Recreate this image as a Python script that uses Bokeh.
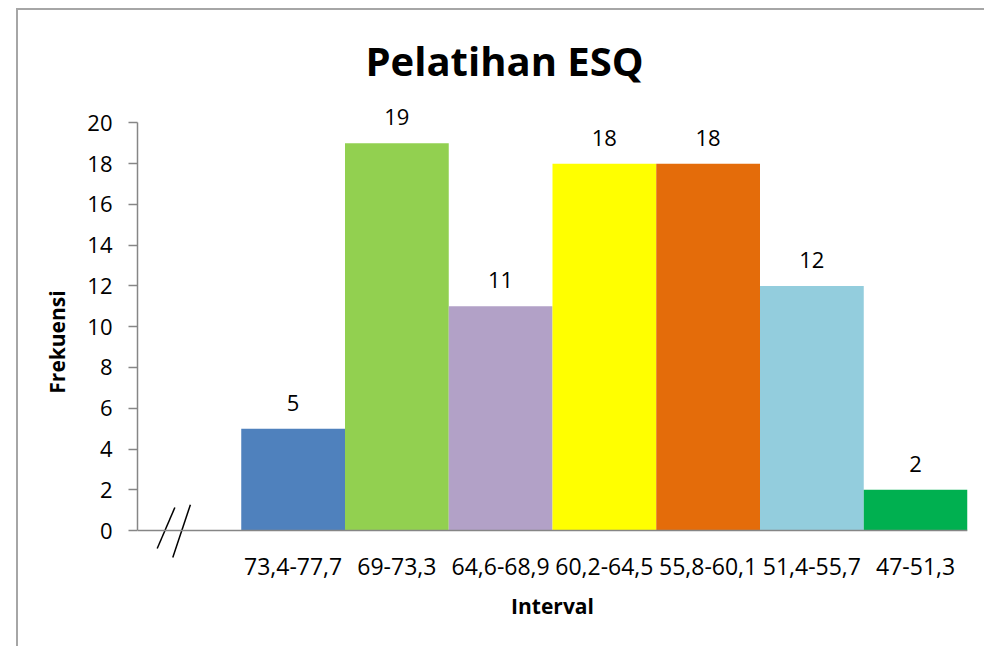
from bokeh.plotting import figure
from bokeh.models import (ColumnDataSource, FixedTicker, Range1d, Span, LabelSet)
from bokeh.core.properties import value
from bokeh.embed import file_html
from bokeh.resources import INLINE

intervals = ["73,4-77,7", "69-73,3", "64,6-68,9", "60,2-64,5", "55,8-60,1", "51,4-55,7", "47-51,3"]
frekuensi = [5, 19, 11, 18, 18, 12, 2]
colors = ["#4F81BD", "#92D050", "#B2A1C7", "#FFFF00", "#E46C0A", "#93CDDD", "#00B050"]
y_ticks = [0, 2, 4, 6, 8, 10, 12, 14, 16, 18, 20]

# slot 0 is the empty (broken-axis) slot, bars start at slot 1
xpos = [i + 1.5 for i in range(len(intervals))]

src = ColumnDataSource(dict(x=xpos, top=frekuensi, color=colors,
                            label=[str(v) for v in frekuensi],
                            zero=[0] * len(intervals), cat=intervals))

FONT = "Open Sans"

p = figure(width=968, height=638, output_backend="svg", toolbar_location=None,
           x_range=Range1d(0, len(intervals) + 1), y_range=Range1d(-2.5, 21),
           min_border_left=119, min_border_right=19, min_border_top=92,
           min_border_bottom=67)
p.styles = {"margin-left": "16px", "margin-top": "8px",
            "border-left": "2px solid #a6a6a6", "border-top": "2px solid #a6a6a6"}
p.outline_line_color = None
p.xgrid.visible = False
p.ygrid.visible = False
p.background_fill_color = "white"
p.border_fill_color = "white"

p.title.text = "Pelatihan ESQ"
p.title.text_font = FONT
p.title.text_font_size = "40px"
p.title.text_font_style = "bold"
p.title.text_color = "black"
p.title.align = "left"
p.title.offset = 228
p.title.standoff = 30

p.vbar(x="x", top="top", width=1.0, bottom=0, color="color", line_color=None, source=src)

# zero line (category axis line)
p.add_layout(Span(location=0, dimension="width", line_color="#868686", line_width=1.5))

# value labels
p.add_layout(LabelSet(x="x", y="top", text="label", source=src, text_align="center",
                      text_baseline="alphabetic", y_offset=18, text_font=value(FONT),
                      text_font_size="22px", text_color="black"))

# category labels
p.add_layout(LabelSet(x="x", y="zero", text="cat", source=src, text_align="center",
                      text_baseline="alphabetic", y_offset=-44, text_font=value(FONT),
                      text_font_size="23px", text_color="black"))

# axis break mark "//"
p.segment(x0=[0.19, 0.34], y0=[-0.88, -1.32], x1=[0.36, 0.51], y1=[1.13, 1.27],
          line_color="black", line_width=1.5)

# y axis
ya = p.yaxis[0]
ya.ticker = FixedTicker(ticks=y_ticks)
ya.bounds = (0, 20)
ya.axis_label = "Frekuensi"
ya.axis_label_text_font = FONT
ya.axis_label_text_font_size = "21px"
ya.axis_label_text_font_style = "bold"
ya.axis_label_text_color = "black"
ya.axis_label_standoff = 13
ya.major_label_text_font = FONT
ya.major_label_text_font_size = "22px"
ya.major_label_text_color = "black"
ya.major_label_standoff = 16
ya.axis_line_color = "#868686"
ya.axis_line_width = 1.5
ya.major_tick_line_color = "#868686"
ya.major_tick_line_width = 1.5
ya.major_tick_in = 0
ya.major_tick_out = 9
ya.minor_tick_line_color = None

# x axis: only carries the axis title
xa = p.xaxis[0]
xa.ticker = FixedTicker(ticks=[])
xa.axis_label = "Interval"
xa.axis_label_text_font = FONT
xa.axis_label_text_font_size = "21px"
xa.axis_label_text_font_style = "bold"
xa.axis_label_text_color = "black"
xa.axis_label_standoff = 10
xa.axis_line_color = None
xa.major_tick_line_color = None
xa.major_tick_in = 0
xa.major_tick_out = 0
xa.minor_tick_line_color = None
xa.major_label_text_font_size = "1px"

open("out.html", "w").write(file_html(p, INLINE))
